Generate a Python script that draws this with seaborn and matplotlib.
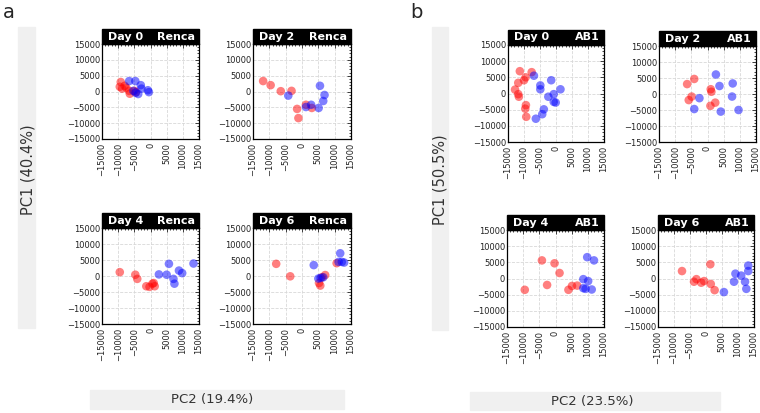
import pandas as pd
import matplotlib
matplotlib.use('Agg')
import matplotlib.pyplot as plt
import seaborn as sns
from matplotlib.patches import Rectangle
from matplotlib.ticker import MultipleLocator

# PCA scores, (PC2, PC1) pairs per group
renca_d0_red = [(-9200, 3000), (-9500, 1500), (-8800, 900), (-7500, 1200), (-8000, 1800),
                (-6600, 200), (-6400, -700), (-5000, 200), (-4500, -200)]
renca_d0_blue = [(-6600, 3300), (-4700, 3300), (-3000, 2000), (-2800, 900), (-3800, -800),
                 (-800, 400), (-500, -200), (-5300, 200), (-4600, -400)]
renca_d2_red = [(-11900, 3300), (-9600, 2000), (-6500, 100), (-3200, 200), (-1500, -5500),
                (-1100, -8400), (1200, -4200), (3000, -5200)]
renca_d2_blue = [(-4200, -1300), (1200, -4900), (2800, -4200), (5100, -5200), (5500, 1800),
                 (6900, -1100), (6500, -3000)]
renca_d4_red = [(-9500, 1200), (-4700, 400), (-4100, -900), (-1300, -3200), (-300, -3400),
                (600, -2400), (1000, -2200), (1300, -3200)]
renca_d4_blue = [(2600, 500), (5000, 400), (5700, 3800), (7100, -900), (7400, -2400),
                 (8800, 1700), (9800, 900), (13300, 3900)]
renca_d6_red = [(-7900, 3800), (-3600, -100), (5200, -2200), (5600, -3000), (7100, 300),
                (6100, -400), (10600, 4000)]
renca_d6_blue = [(3600, 3400), (5000, -800), (5700, -600), (6500, -400), (11700, 7100),
                 (11200, 4400), (12200, 4400), (12900, 4200)]

ab1_d0_red = [(-11300, 6900), (-7600, 6600), (-11800, 3300), (-10000, 4100), (-9500, 5000),
              (-12800, 1200), (-11800, -200), (-11600, -1000), (-9400, -3600), (-9600, -4700),
              (-9300, -7200)]
ab1_d0_blue = [(-6900, 5500), (-4900, 2500), (-4900, 1300), (-1500, 4100), (1400, 1300),
               (-2400, -1000), (-700, -200), (-700, -2600), (-100, -2800), (-3800, -4900),
               (-4300, -6400), (-6300, -7800)]
ab1_d2_red = [(-6300, 3100), (-4100, 4700), (-4900, -800), (-5800, -1900), (1000, 1500),
              (1200, 700), (900, -3700), (2400, -2700)]
ab1_d2_blue = [(-4100, -4700), (-2500, -1300), (2600, 6100), (3700, 2500), (4100, -5500),
               (7800, 3300), (7600, -800), (9600, -5000)]
ab1_d4_red = [(-9500, -3500), (-4200, 5600), (-2600, -2000), (-300, 4700), (1250, 1700),
              (4000, -3500), (5100, -2300), (6700, -2200)]
ab1_d4_blue = [(9800, 6600), (11900, 5600), (8600, -200), (10100, -800), (8600, -3000),
               (9300, -3200), (11200, -3400)]
ab1_d6_red = [(-7500, 2300), (-3750, -1000), (-3000, -200), (-1500, -1300), (-600, -800),
              (1350, 4400), (1500, -1700), (2700, -3600)]
ab1_d6_blue = [(5600, -4200), (8750, -1000), (9200, 1500), (11000, 900), (12200, -1000),
               (12600, -3200), (13200, 4000), (13200, 2300)]

sns.set_style('white')
plt.rcParams['font.family'] = ['DejaVu Sans']

W, H = 760, 413
fig = plt.figure(figsize=(7.6, 4.13), dpi=100)


def px_axes(x0, y0, x1, y1):
    return fig.add_axes([x0 / W, 1 - y1 / H, (x1 - x0) / W, (y1 - y0) / H])


def gray_bar(x0, y0, x1, y1):
    fig.patches.append(Rectangle((x0 / W, 1 - y1 / H), (x1 - x0) / W, (y1 - y0) / H,
                                 transform=fig.transFigure, color='#f0f0f0', zorder=0))


def draw_panel(box, red, blue, day, line):
    ax = px_axes(*box)
    h = box[3] - box[1]
    df = pd.DataFrame(red + blue, columns=['PC2', 'PC1'])
    df['group'] = ['red'] * len(red) + ['blue'] * len(blue)
    sns.scatterplot(data=df, x='PC2', y='PC1', hue='group',
                    palette={'red': '#ff0000', 'blue': '#0000ff'},
                    alpha=0.5, s=38, edgecolor='none', legend=False, ax=ax, zorder=3)
    ax.set_xlim(-15000, 15000)
    ax.set_ylim(-15000, 15000)
    for a in (ax.xaxis, ax.yaxis):
        a.set_major_locator(MultipleLocator(5000))
        a.set_minor_locator(MultipleLocator(1000))
    ax.tick_params(which='both', direction='in', top=True, right=True,
                   labelsize=6, colors='#222222', width=0.6)
    ax.tick_params(which='major', length=3)
    ax.tick_params(which='minor', length=1.5)
    ax.tick_params(axis='x', labelrotation=90, pad=3)
    ax.tick_params(axis='y', pad=1.5)
    ax.grid(True, which='major', ls='--', color='#d8d8d8', lw=0.6)
    for sp in ax.spines.values():
        sp.set_color('black')
        sp.set_linewidth(0.9)
    ax.set_xlabel('')
    ax.set_ylabel('')
    hh = 15 / h
    ax.add_patch(Rectangle((0, 1), 1, hh, transform=ax.transAxes, color='black',
                           clip_on=False, zorder=5))
    ax.text(0.06, 1 + hh / 2, day, transform=ax.transAxes, color='white',
            fontsize=8, fontweight='bold', ha='left', va='center', zorder=6)
    ax.text(0.96, 1 + hh / 2, line, transform=ax.transAxes, color='white',
            fontsize=8, fontweight='bold', ha='right', va='center', zorder=6)
    return ax


# panel a (Renca)
gray_bar(18, 27, 35, 328)
gray_bar(90, 390, 344, 409)
draw_panel((102, 44, 199, 139), renca_d0_red, renca_d0_blue, 'Day 0', 'Renca')
draw_panel((253, 44, 351, 139), renca_d2_red, renca_d2_blue, 'Day 2', 'Renca')
draw_panel((102, 228, 199, 324), renca_d4_red, renca_d4_blue, 'Day 4', 'Renca')
draw_panel((253, 228, 351, 324), renca_d6_red, renca_d6_blue, 'Day 6', 'Renca')
fig.text(28 / W, 1 - 170 / H, 'PC1 (40.4%)', rotation=90, ha='center', va='center',
         fontsize=10.5, color='#333333')
fig.text(212 / W, 1 - 400 / H, 'PC2 (19.4%)', ha='center', va='center',
         fontsize=9.5, color='#333333')
fig.text(9 / W, 1 - 12 / H, 'a', ha='center', va='center', fontsize=14)

# panel b (AB1)
gray_bar(432, 27, 448, 330)
gray_bar(470, 392, 720, 410)
draw_panel((508, 45, 604, 142), ab1_d0_red, ab1_d0_blue, 'Day 0', 'AB1')
draw_panel((659, 46, 756, 142), ab1_d2_red, ab1_d2_blue, 'Day 2', 'AB1')
draw_panel((507, 230, 604, 327), ab1_d4_red, ab1_d4_blue, 'Day 4', 'AB1')
draw_panel((658, 230, 754, 327), ab1_d6_red, ab1_d6_blue, 'Day 6', 'AB1')
fig.text(440 / W, 1 - 180 / H, 'PC1 (50.5%)', rotation=90, ha='center', va='center',
         fontsize=10.5, color='#333333')
fig.text(592 / W, 1 - 401 / H, 'PC2 (23.5%)', ha='center', va='center',
         fontsize=9.5, color='#333333')
fig.text(416 / W, 1 - 12 / H, 'b', ha='center', va='center', fontsize=14)

fig.savefig('out.png', dpi=100)
